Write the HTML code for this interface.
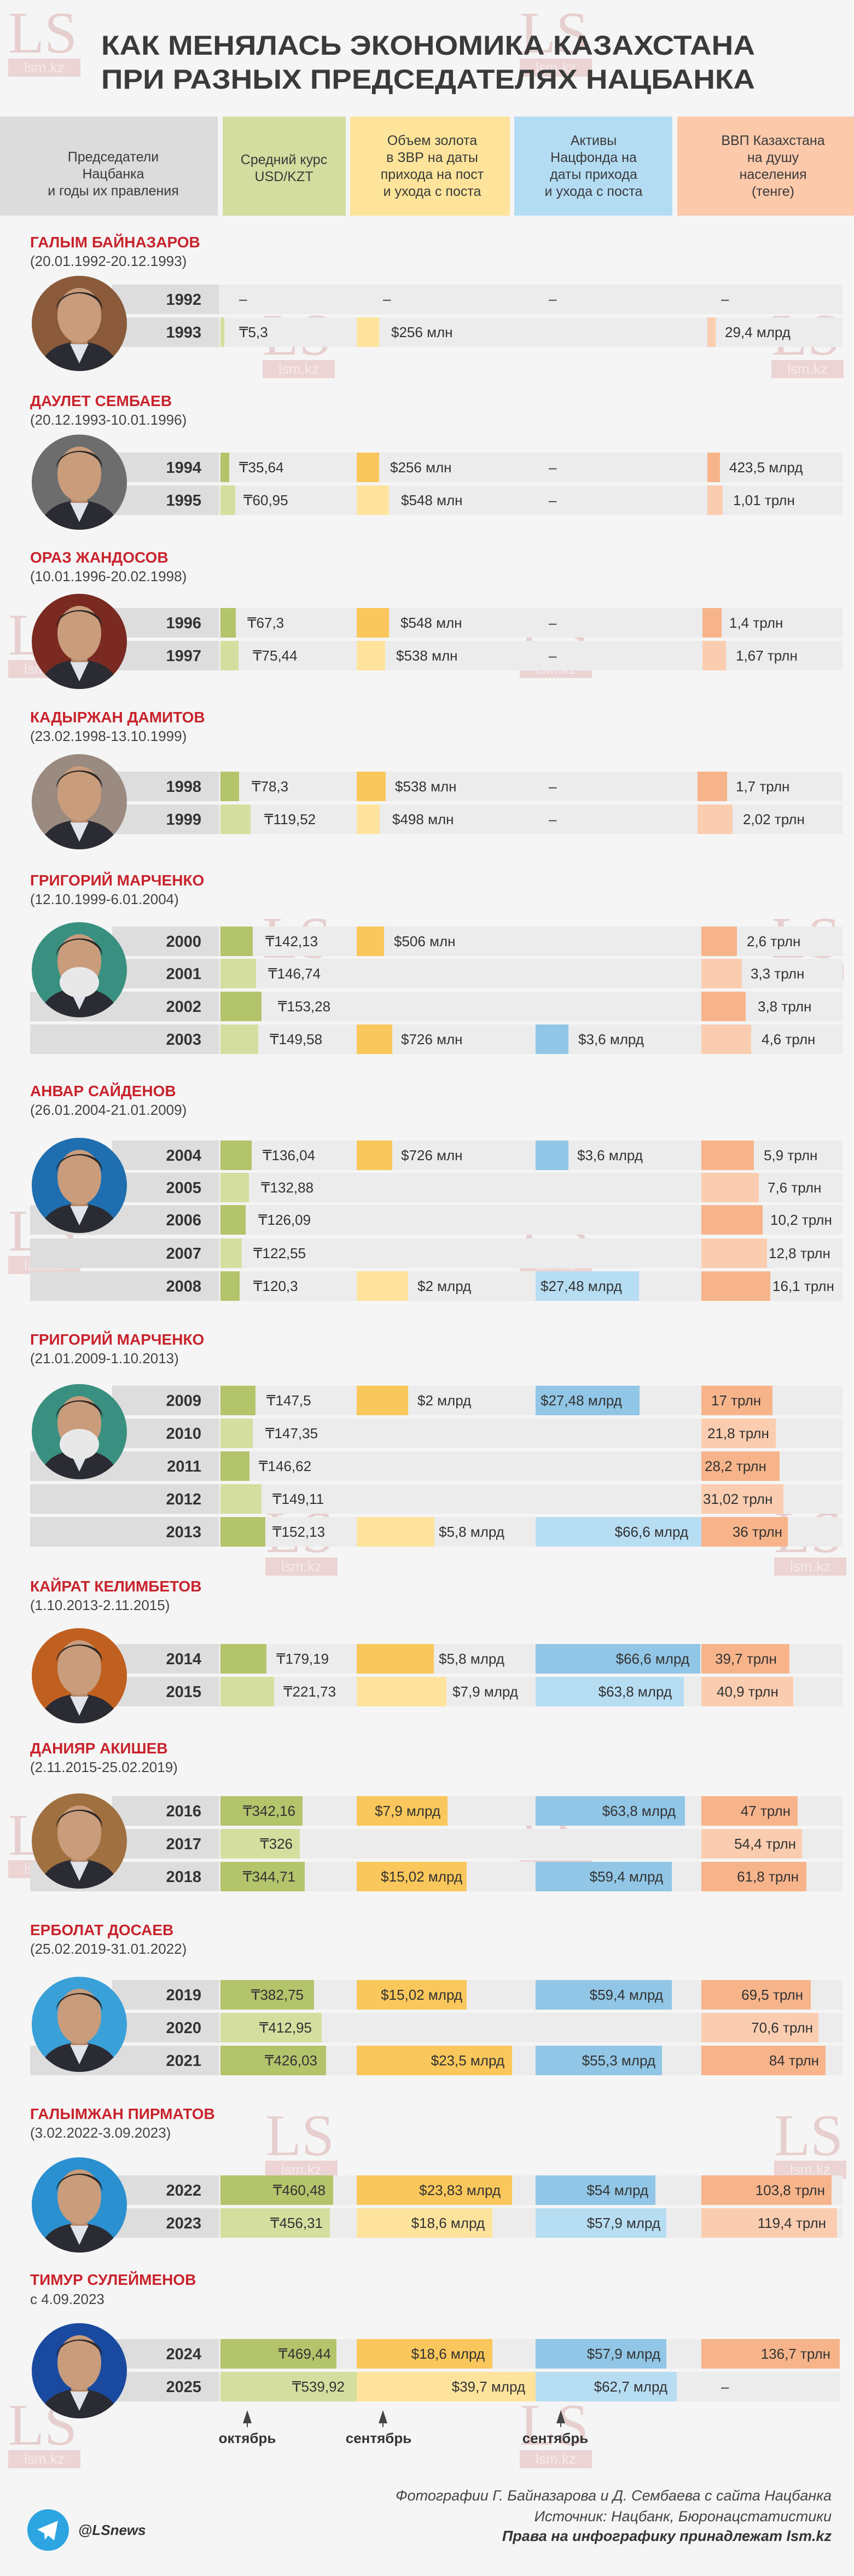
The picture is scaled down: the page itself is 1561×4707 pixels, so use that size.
<!DOCTYPE html>
<html><head><meta charset="utf-8">
<style>
html,body{margin:0;padding:0;background:#f5f5f5;}
svg{display:block;}
text{font-family:"Liberation Sans","DejaVu Sans",sans-serif;}
.yr{font-size:29px;font-weight:bold;fill:#333;text-anchor:end;}
.v{font-size:26px;fill:#333;}
.ve{font-size:26px;fill:#333;text-anchor:end;}
.nm{font-size:28px;font-weight:bold;fill:#c8232c;}
.dt{font-size:26px;fill:#444;}
.hd{font-size:25px;fill:#3a3a3a;text-anchor:middle;}
.ls{font-family:"Liberation Serif",serif;font-size:108px;fill:#e3c3c3;opacity:.75;}
.lk{font-size:26px;fill:#f6eaea;text-anchor:middle;}
</style></head>
<body>
<svg width="1561" height="4707" viewBox="0 0 1561 4707" xmlns="http://www.w3.org/2000/svg">
<defs>
<clipPath id="c"><circle cx="87" cy="87" r="87"/></clipPath>
<g id="person">
<path d="M10,180 C20,135 50,122 87,120 C124,122 154,135 164,180 Z" fill="#2b2b33"/>
<path d="M70,124 L87,160 L104,124 Z" fill="#dfe3ea"/>
<rect x="72" y="95" width="30" height="30" fill="#b88a6c"/>
<ellipse cx="87" cy="72" rx="40" ry="50" fill="#c99c7c"/>
<path d="M45,62 C45,20 130,18 129,62 C124,40 100,32 87,32 C70,32 50,40 45,62 Z" fill="#2a2624"/>
</g>
</defs>
<rect width="1561" height="4707" fill="#f5f5f5"/>

<!-- watermarks -->
<g>
<text class="ls" x="15" y="96">LS</text><rect x="15" y="107" width="132" height="33" fill="#ecd4d4"/><text class="lk" x="81" y="132">lsm.kz</text>
<text class="ls" x="950" y="96">LS</text><rect x="950" y="107" width="132" height="33" fill="#ecd4d4"/><text class="lk" x="1016" y="132">lsm.kz</text>
<text class="ls" x="480" y="648">LS</text><rect x="480" y="658" width="132" height="33" fill="#ecd4d4"/><text class="lk" x="546" y="683">lsm.kz</text>
<text class="ls" x="1410" y="648">LS</text><rect x="1410" y="658" width="132" height="33" fill="#ecd4d4"/><text class="lk" x="1476" y="683">lsm.kz</text>
<text class="ls" x="15" y="1196">LS</text><rect x="15" y="1206" width="132" height="33" fill="#ecd4d4"/><text class="lk" x="81" y="1231">lsm.kz</text>
<text class="ls" x="950" y="1196">LS</text><rect x="950" y="1206" width="132" height="33" fill="#ecd4d4"/><text class="lk" x="1016" y="1231">lsm.kz</text>
<text class="ls" x="480" y="1750">LS</text><rect x="480" y="1760" width="132" height="33" fill="#ecd4d4"/><text class="lk" x="546" y="1785">lsm.kz</text>
<text class="ls" x="1410" y="1750">LS</text><rect x="1410" y="1760" width="132" height="33" fill="#ecd4d4"/><text class="lk" x="1476" y="1785">lsm.kz</text>
<text class="ls" x="15" y="2285">LS</text><rect x="15" y="2295" width="132" height="33" fill="#ecd4d4"/><text class="lk" x="81" y="2320">lsm.kz</text>
<text class="ls" x="950" y="2285">LS</text><rect x="950" y="2295" width="132" height="33" fill="#ecd4d4"/><text class="lk" x="1016" y="2320">lsm.kz</text>
<text class="ls" x="485" y="2836">LS</text><rect x="485" y="2846" width="132" height="33" fill="#ecd4d4"/><text class="lk" x="551" y="2871">lsm.kz</text>
<text class="ls" x="1415" y="2836">LS</text><rect x="1415" y="2846" width="132" height="33" fill="#ecd4d4"/><text class="lk" x="1481" y="2871">lsm.kz</text>
<text class="ls" x="15" y="3389">LS</text><rect x="15" y="3399" width="132" height="33" fill="#ecd4d4"/><text class="lk" x="81" y="3424">lsm.kz</text>
<text class="ls" x="950" y="3389">LS</text><rect x="950" y="3399" width="132" height="33" fill="#ecd4d4"/><text class="lk" x="1016" y="3424">lsm.kz</text>
<text class="ls" x="485" y="3938">LS</text><rect x="485" y="3948" width="132" height="33" fill="#ecd4d4"/><text class="lk" x="551" y="3973">lsm.kz</text>
<text class="ls" x="1415" y="3938">LS</text><rect x="1415" y="3948" width="132" height="33" fill="#ecd4d4"/><text class="lk" x="1481" y="3973">lsm.kz</text>
<text class="ls" x="15" y="4467">LS</text><rect x="15" y="4477" width="132" height="33" fill="#ecd4d4"/><text class="lk" x="81" y="4502">lsm.kz</text>
<text class="ls" x="950" y="4467">LS</text><rect x="950" y="4477" width="132" height="33" fill="#ecd4d4"/><text class="lk" x="1016" y="4502">lsm.kz</text>
</g>

<!-- title -->
<text x="185" y="100" font-size="50" font-weight="bold" fill="#3a3a3a" textLength="1195" lengthAdjust="spacingAndGlyphs">КАК МЕНЯЛАСЬ ЭКОНОМИКА КАЗАХСТАНА</text>
<text x="185" y="162" font-size="50" font-weight="bold" fill="#3a3a3a" textLength="1195" lengthAdjust="spacingAndGlyphs">ПРИ РАЗНЫХ ПРЕДСЕДАТЕЛЯХ НАЦБАНКА</text>

<!-- header -->
<rect x="0" y="213" width="398" height="181" fill="#dcdcdc"/>
<rect x="407" y="213" width="225" height="181" fill="#d3dd9f"/>
<rect x="640" y="213" width="292" height="181" fill="#fde49a"/>
<rect x="940" y="213" width="289" height="181" fill="#b3dcf3"/>
<rect x="1238" y="213" width="323" height="181" fill="#fcc9ab"/>
<text class="hd" x="207" y="295">Председатели</text><text class="hd" x="207" y="326">Нацбанка</text><text class="hd" x="207" y="357">и годы их правления</text>
<text class="hd" x="519" y="300">Средний курс</text><text class="hd" x="519" y="331">USD/KZT</text>
<text class="hd" x="790" y="265">Объем золота</text><text class="hd" x="790" y="296">в ЗВР на даты</text><text class="hd" x="790" y="327">прихода на пост</text><text class="hd" x="790" y="358">и ухода с поста</text>
<text class="hd" x="1085" y="265">Активы</text><text class="hd" x="1085" y="296">Нацфонда на</text><text class="hd" x="1085" y="327">даты прихода</text><text class="hd" x="1085" y="358">и ухода с поста</text>
<text class="hd" x="1413" y="265">ВВП Казахстана</text><text class="hd" x="1413" y="296">на душу</text><text class="hd" x="1413" y="327">населения</text><text class="hd" x="1413" y="358">(тенге)</text>

<!-- names -->
<text class="nm" x="55" y="452">ГАЛЫМ БАЙНАЗАРОВ</text><text class="dt" x="55" y="486">(20.01.1992-20.12.1993)</text>
<text class="nm" x="55" y="742">ДАУЛЕТ СЕМБАЕВ</text><text class="dt" x="55" y="776">(20.12.1993-10.01.1996)</text>
<text class="nm" x="55" y="1028">ОРАЗ ЖАНДОСОВ</text><text class="dt" x="55" y="1062">(10.01.1996-20.02.1998)</text>
<text class="nm" x="55" y="1320">КАДЫРЖАН ДАМИТОВ</text><text class="dt" x="55" y="1354">(23.02.1998-13.10.1999)</text>
<text class="nm" x="55" y="1618">ГРИГОРИЙ МАРЧЕНКО</text><text class="dt" x="55" y="1652">(12.10.1999-6.01.2004)</text>
<text class="nm" x="55" y="2003">АНВАР САЙДЕНОВ</text><text class="dt" x="55" y="2037">(26.01.2004-21.01.2009)</text>
<text class="nm" x="55" y="2457">ГРИГОРИЙ МАРЧЕНКО</text><text class="dt" x="55" y="2491">(21.01.2009-1.10.2013)</text>
<text class="nm" x="55" y="2908">КАЙРАТ КЕЛИМБЕТОВ</text><text class="dt" x="55" y="2942">(1.10.2013-2.11.2015)</text>
<text class="nm" x="55" y="3204">ДАНИЯР АКИШЕВ</text><text class="dt" x="55" y="3238">(2.11.2015-25.02.2019)</text>
<text class="nm" x="55" y="3536">ЕРБОЛАТ ДОСАЕВ</text><text class="dt" x="55" y="3570">(25.02.2019-31.01.2022)</text>
<text class="nm" x="55" y="3872">ГАЛЫМЖАН ПИРМАТОВ</text><text class="dt" x="55" y="3906">(3.02.2022-3.09.2023)</text>
<text class="nm" x="55" y="4175">ТИМУР СУЛЕЙМЕНОВ</text><text class="dt" x="55" y="4210">с 4.09.2023</text>

<!-- ROWS -->
<g>
<!-- sec1 -->
<rect x="205" y="520" width="1335" height="54" fill="#ececec"/><rect x="205" y="520" width="195" height="54" fill="#dddddd"/><text class="yr" x="368" y="557">1992</text>
<text class="v" x="437" y="555">–</text><text class="v" x="700" y="555">–</text><text class="v" x="1003" y="555">–</text><text class="v" x="1318" y="555">–</text>
<rect x="205" y="580" width="1335" height="54" fill="#ececec"/><rect x="205" y="580" width="195" height="54" fill="#dddddd"/><text class="yr" x="368" y="617">1993</text>
<rect x="403" y="580" width="7" height="54" fill="#d4df9f"/><text class="v" x="437" y="616">₸5,3</text>
<rect x="652" y="580" width="41" height="54" fill="#fde39c"/><text class="v" x="715" y="616">$256 млн</text>
<rect x="1293" y="580" width="15" height="54" fill="#fbcdb0"/><text class="v" x="1325" y="616">29,4 млрд</text>

<!-- sec2 -->
<rect x="205" y="827" width="1335" height="54" fill="#ececec"/><rect x="205" y="827" width="195" height="54" fill="#dddddd"/><text class="yr" x="368" y="864">1994</text>
<rect x="403" y="827" width="16" height="54" fill="#b3c46b"/><text class="v" x="437" y="863">₸35,64</text>
<rect x="652" y="827" width="41" height="54" fill="#f9c75b"/><text class="v" x="713" y="863">$256 млн</text>
<text class="v" x="1003" y="863">–</text>
<rect x="1293" y="827" width="23" height="54" fill="#f7b48b"/><text class="v" x="1333" y="863">423,5 млрд</text>
<rect x="205" y="887" width="1335" height="54" fill="#ececec"/><rect x="205" y="887" width="195" height="54" fill="#dddddd"/><text class="yr" x="368" y="924">1995</text>
<rect x="403" y="887" width="27" height="54" fill="#d4df9f"/><text class="v" x="445" y="923">₸60,95</text>
<rect x="652" y="887" width="59" height="54" fill="#fde39c"/><text class="v" x="733" y="923">$548 млн</text>
<text class="v" x="1003" y="923">–</text>
<rect x="1293" y="887" width="28" height="54" fill="#fbcdb0"/><text class="v" x="1340" y="923">1,01 трлн</text>

<!-- sec3 -->
<rect x="205" y="1111" width="1335" height="54" fill="#ececec"/><rect x="205" y="1111" width="195" height="54" fill="#dddddd"/><text class="yr" x="368" y="1148">1996</text>
<rect x="403" y="1111" width="28" height="54" fill="#b3c46b"/><text class="v" x="452" y="1147">₸67,3</text>
<rect x="652" y="1111" width="59" height="54" fill="#f9c75b"/><text class="v" x="732" y="1147">$548 млн</text>
<text class="v" x="1003" y="1147">–</text>
<rect x="1284" y="1111" width="35" height="54" fill="#f7b48b"/><text class="v" x="1333" y="1147">1,4 трлн</text>
<rect x="205" y="1171" width="1335" height="54" fill="#ececec"/><rect x="205" y="1171" width="195" height="54" fill="#dddddd"/><text class="yr" x="368" y="1208">1997</text>
<rect x="403" y="1171" width="33" height="54" fill="#d4df9f"/><text class="v" x="462" y="1207">₸75,44</text>
<rect x="652" y="1171" width="52" height="54" fill="#fde39c"/><text class="v" x="724" y="1207">$538 млн</text>
<text class="v" x="1003" y="1207">–</text>
<rect x="1284" y="1171" width="43" height="54" fill="#fbcdb0"/><text class="v" x="1345" y="1207">1,67 трлн</text>

<!-- sec4 -->
<rect x="205" y="1410" width="1335" height="54" fill="#ececec"/><rect x="205" y="1410" width="195" height="54" fill="#dddddd"/><text class="yr" x="368" y="1447">1998</text>
<rect x="403" y="1410" width="34" height="54" fill="#b3c46b"/><text class="v" x="460" y="1446">₸78,3</text>
<rect x="652" y="1410" width="53" height="54" fill="#f9c75b"/><text class="v" x="722" y="1446">$538 млн</text>
<text class="v" x="1003" y="1446">–</text>
<rect x="1275" y="1410" width="54" height="54" fill="#f7b48b"/><text class="v" x="1345" y="1446">1,7 трлн</text>
<rect x="205" y="1470" width="1335" height="54" fill="#ececec"/><rect x="205" y="1470" width="195" height="54" fill="#dddddd"/><text class="yr" x="368" y="1507">1999</text>
<rect x="403" y="1470" width="55" height="54" fill="#d4df9f"/><text class="v" x="483" y="1506">₸119,52</text>
<rect x="652" y="1470" width="42" height="54" fill="#fde39c"/><text class="v" x="717" y="1506">$498 млн</text>
<text class="v" x="1003" y="1506">–</text>
<rect x="1275" y="1470" width="64" height="54" fill="#fbcdb0"/><text class="v" x="1358" y="1506">2,02 трлн</text>

<!-- sec5 -->
<rect x="205" y="1693" width="1335" height="54" fill="#ececec"/><rect x="205" y="1693" width="195" height="54" fill="#dddddd"/><text class="yr" x="368" y="1730">2000</text>
<rect x="403" y="1693" width="59" height="54" fill="#b3c46b"/><text class="v" x="485" y="1729">₸142,13</text>
<rect x="652" y="1693" width="50" height="54" fill="#f9c75b"/><text class="v" x="720" y="1729">$506 млн</text>
<rect x="1282" y="1693" width="65" height="54" fill="#f7b48b"/><text class="v" x="1365" y="1729">2,6 трлн</text>
<rect x="205" y="1752" width="1335" height="54" fill="#ececec"/><rect x="205" y="1752" width="195" height="54" fill="#dddddd"/><text class="yr" x="368" y="1789">2001</text>
<rect x="403" y="1752" width="65" height="54" fill="#d4df9f"/><text class="v" x="490" y="1788">₸146,74</text>
<rect x="1282" y="1752" width="74" height="54" fill="#fbcdb0"/><text class="v" x="1372" y="1788">3,3 трлн</text>
<rect x="55" y="1812" width="1485" height="54" fill="#ececec"/><rect x="55" y="1812" width="345" height="54" fill="#dddddd"/><text class="yr" x="368" y="1849">2002</text>
<rect x="403" y="1812" width="75" height="54" fill="#b3c46b"/><text class="v" x="508" y="1848">₸153,28</text>
<rect x="1282" y="1812" width="81" height="54" fill="#f7b48b"/><text class="v" x="1385" y="1848">3,8 трлн</text>
<rect x="55" y="1872" width="1485" height="54" fill="#ececec"/><rect x="55" y="1872" width="345" height="54" fill="#dddddd"/><text class="yr" x="368" y="1909">2003</text>
<rect x="403" y="1872" width="69" height="54" fill="#d4df9f"/><text class="v" x="493" y="1908">₸149,58</text>
<rect x="652" y="1872" width="65" height="54" fill="#f9c75b"/><text class="v" x="733" y="1908">$726 млн</text>
<rect x="979" y="1872" width="60" height="54" fill="#91c6e6"/><text class="v" x="1057" y="1908">$3,6 млрд</text>
<rect x="1282" y="1872" width="91" height="54" fill="#fbcdb0"/><text class="v" x="1392" y="1908">4,6 трлн</text>

<!-- sec6 -->
<rect x="205" y="2084" width="1335" height="54" fill="#ececec"/><rect x="205" y="2084" width="195" height="54" fill="#dddddd"/><text class="yr" x="368" y="2121">2004</text>
<rect x="403" y="2084" width="57" height="54" fill="#b3c46b"/><text class="v" x="480" y="2120">₸136,04</text>
<rect x="652" y="2084" width="65" height="54" fill="#f9c75b"/><text class="v" x="733" y="2120">$726 млн</text>
<rect x="979" y="2084" width="60" height="54" fill="#91c6e6"/><text class="v" x="1055" y="2120">$3,6 млрд</text>
<rect x="1282" y="2084" width="96" height="54" fill="#f7b48b"/><text class="v" x="1396" y="2120">5,9 трлн</text>
<rect x="205" y="2143" width="1335" height="54" fill="#ececec"/><rect x="205" y="2143" width="195" height="54" fill="#dddddd"/><text class="yr" x="368" y="2180">2005</text>
<rect x="403" y="2143" width="52" height="54" fill="#d4df9f"/><text class="v" x="477" y="2179">₸132,88</text>
<rect x="1282" y="2143" width="105" height="54" fill="#fbcdb0"/><text class="v" x="1403" y="2179">7,6 трлн</text>
<rect x="55" y="2202" width="1485" height="54" fill="#ececec"/><rect x="55" y="2202" width="345" height="54" fill="#dddddd"/><text class="yr" x="368" y="2239">2006</text>
<rect x="403" y="2202" width="46" height="54" fill="#b3c46b"/><text class="v" x="472" y="2238">₸126,09</text>
<rect x="1282" y="2202" width="112" height="54" fill="#f7b48b"/><text class="v" x="1408" y="2238">10,2 трлн</text>
<rect x="55" y="2263" width="1485" height="54" fill="#ececec"/><rect x="55" y="2263" width="345" height="54" fill="#dddddd"/><text class="yr" x="368" y="2300">2007</text>
<rect x="403" y="2263" width="39" height="54" fill="#d4df9f"/><text class="v" x="463" y="2299">₸122,55</text>
<rect x="1282" y="2263" width="120" height="54" fill="#fbcdb0"/><text class="v" x="1405" y="2299">12,8 трлн</text>
<rect x="55" y="2323" width="1485" height="54" fill="#ececec"/><rect x="55" y="2323" width="345" height="54" fill="#dddddd"/><text class="yr" x="368" y="2360">2008</text>
<rect x="403" y="2323" width="35" height="54" fill="#b3c46b"/><text class="v" x="463" y="2359">₸120,3</text>
<rect x="652" y="2323" width="94" height="54" fill="#fde39c"/><text class="v" x="763" y="2359">$2 млрд</text>
<rect x="979" y="2323" width="189" height="54" fill="#b7ddf3"/><text class="v" x="988" y="2359">$27,48 млрд</text>
<rect x="1282" y="2323" width="126" height="54" fill="#f7b48b"/><text class="v" x="1412" y="2359">16,1 трлн</text>

<!-- sec7 -->
<rect x="205" y="2532" width="1335" height="54" fill="#ececec"/><rect x="205" y="2532" width="195" height="54" fill="#dddddd"/><text class="yr" x="368" y="2569">2009</text>
<rect x="403" y="2532" width="64" height="54" fill="#b3c46b"/><text class="v" x="487" y="2568">₸147,5</text>
<rect x="652" y="2532" width="94" height="54" fill="#f9c75b"/><text class="v" x="763" y="2568">$2 млрд</text>
<rect x="979" y="2532" width="190" height="54" fill="#91c6e6"/><text class="v" x="988" y="2568">$27,48 млрд</text>
<rect x="1282" y="2532" width="130" height="54" fill="#f7b48b"/><text class="v" x="1300" y="2568">17 трлн</text>
<rect x="205" y="2592" width="1335" height="54" fill="#ececec"/><rect x="205" y="2592" width="195" height="54" fill="#dddddd"/><text class="yr" x="368" y="2629">2010</text>
<rect x="403" y="2592" width="59" height="54" fill="#d4df9f"/><text class="v" x="485" y="2628">₸147,35</text>
<rect x="1282" y="2592" width="136" height="54" fill="#fbcdb0"/><text class="v" x="1293" y="2628">21,8 трлн</text>
<rect x="55" y="2652" width="1485" height="54" fill="#ececec"/><rect x="55" y="2652" width="345" height="54" fill="#dddddd"/><text class="yr" x="368" y="2689">2011</text>
<rect x="403" y="2652" width="53" height="54" fill="#b3c46b"/><text class="v" x="473" y="2688">₸146,62</text>
<rect x="1282" y="2652" width="143" height="54" fill="#f7b48b"/><text class="v" x="1288" y="2688">28,2 трлн</text>
<rect x="55" y="2712" width="1485" height="54" fill="#ececec"/><rect x="55" y="2712" width="345" height="54" fill="#dddddd"/><text class="yr" x="368" y="2749">2012</text>
<rect x="403" y="2712" width="75" height="54" fill="#d4df9f"/><text class="v" x="498" y="2748">₸149,11</text>
<rect x="1282" y="2712" width="150" height="54" fill="#fbcdb0"/><text class="v" x="1285" y="2748">31,02 трлн</text>
<rect x="55" y="2772" width="1485" height="54" fill="#ececec"/><rect x="55" y="2772" width="345" height="54" fill="#dddddd"/><text class="yr" x="368" y="2809">2013</text>
<rect x="403" y="2772" width="82" height="54" fill="#b3c46b"/><text class="v" x="498" y="2808">₸152,13</text>
<rect x="652" y="2772" width="142" height="54" fill="#fde39c"/><text class="v" x="802" y="2808">$5,8 млрд</text>
<rect x="979" y="2772" width="303" height="54" fill="#b7ddf3"/><text class="ve" x="1258" y="2808">$66,6 млрд</text>
<rect x="1282" y="2772" width="158" height="54" fill="#f7b48b"/><text class="ve" x="1430" y="2808">36 трлн</text>

<!-- sec8 -->
<rect x="205" y="3004" width="1335" height="54" fill="#ececec"/><rect x="205" y="3004" width="195" height="54" fill="#dddddd"/><text class="yr" x="368" y="3041">2014</text>
<rect x="403" y="3004" width="84" height="54" fill="#b3c46b"/><text class="v" x="505" y="3040">₸179,19</text>
<rect x="652" y="3004" width="141" height="54" fill="#f9c75b"/><text class="v" x="802" y="3040">$5,8 млрд</text>
<rect x="979" y="3004" width="301" height="54" fill="#91c6e6"/><text class="ve" x="1260" y="3040">$66,6 млрд</text>
<rect x="1282" y="3004" width="161" height="54" fill="#f7b48b"/><text class="v" x="1307" y="3040">39,7 трлн</text>
<rect x="205" y="3064" width="1335" height="54" fill="#ececec"/><rect x="205" y="3064" width="195" height="54" fill="#dddddd"/><text class="yr" x="368" y="3101">2015</text>
<rect x="403" y="3064" width="98" height="54" fill="#d4df9f"/><text class="v" x="518" y="3100">₸221,73</text>
<rect x="652" y="3064" width="164" height="54" fill="#fde39c"/><text class="v" x="827" y="3100">$7,9 млрд</text>
<rect x="979" y="3064" width="271" height="54" fill="#b7ddf3"/><text class="ve" x="1228" y="3100">$63,8 млрд</text>
<rect x="1282" y="3064" width="168" height="54" fill="#fbcdb0"/><text class="v" x="1310" y="3100">40,9 трлн</text>

<!-- sec9 -->
<rect x="205" y="3282" width="1335" height="54" fill="#ececec"/><rect x="205" y="3282" width="195" height="54" fill="#dddddd"/><text class="yr" x="368" y="3319">2016</text>
<rect x="403" y="3282" width="150" height="54" fill="#b3c46b"/><text class="ve" x="540" y="3318">₸342,16</text>
<rect x="652" y="3282" width="166" height="54" fill="#f9c75b"/><text class="ve" x="805" y="3318">$7,9 млрд</text>
<rect x="979" y="3282" width="273" height="54" fill="#91c6e6"/><text class="ve" x="1235" y="3318">$63,8 млрд</text>
<rect x="1282" y="3282" width="176" height="54" fill="#f7b48b"/><text class="ve" x="1445" y="3318">47 трлн</text>
<rect x="205" y="3342" width="1335" height="54" fill="#ececec"/><rect x="205" y="3342" width="195" height="54" fill="#dddddd"/><text class="yr" x="368" y="3379">2017</text>
<rect x="403" y="3342" width="145" height="54" fill="#d4df9f"/><text class="ve" x="535" y="3378">₸326</text>
<rect x="1282" y="3342" width="184" height="54" fill="#fbcdb0"/><text class="ve" x="1455" y="3378">54,4 трлн</text>
<rect x="55" y="3402" width="1485" height="54" fill="#ececec"/><rect x="55" y="3402" width="345" height="54" fill="#dddddd"/><text class="yr" x="368" y="3439">2018</text>
<rect x="403" y="3402" width="154" height="54" fill="#b3c46b"/><text class="ve" x="540" y="3438">₸344,71</text>
<rect x="652" y="3402" width="201" height="54" fill="#f9c75b"/><text class="ve" x="845" y="3438">$15,02 млрд</text>
<rect x="979" y="3402" width="249" height="54" fill="#91c6e6"/><text class="ve" x="1212" y="3438">$59,4 млрд</text>
<rect x="1282" y="3402" width="192" height="54" fill="#f7b48b"/><text class="ve" x="1460" y="3438">61,8 трлн</text>

<!-- sec10 -->
<rect x="205" y="3618" width="1335" height="54" fill="#ececec"/><rect x="205" y="3618" width="195" height="54" fill="#dddddd"/><text class="yr" x="368" y="3655">2019</text>
<rect x="403" y="3618" width="171" height="54" fill="#b3c46b"/><text class="ve" x="555" y="3654">₸382,75</text>
<rect x="652" y="3618" width="201" height="54" fill="#f9c75b"/><text class="ve" x="845" y="3654">$15,02 млрд</text>
<rect x="979" y="3618" width="249" height="54" fill="#91c6e6"/><text class="ve" x="1212" y="3654">$59,4 млрд</text>
<rect x="1282" y="3618" width="200" height="54" fill="#f7b48b"/><text class="ve" x="1468" y="3654">69,5 трлн</text>
<rect x="205" y="3678" width="1335" height="54" fill="#ececec"/><rect x="205" y="3678" width="195" height="54" fill="#dddddd"/><text class="yr" x="368" y="3715">2020</text>
<rect x="403" y="3678" width="185" height="54" fill="#d4df9f"/><text class="ve" x="570" y="3714">₸412,95</text>
<rect x="1282" y="3678" width="214" height="54" fill="#fbcdb0"/><text class="ve" x="1486" y="3714">70,6 трлн</text>
<rect x="55" y="3738" width="1485" height="54" fill="#ececec"/><rect x="55" y="3738" width="345" height="54" fill="#dddddd"/><text class="yr" x="368" y="3775">2021</text>
<rect x="403" y="3738" width="193" height="54" fill="#b3c46b"/><text class="ve" x="580" y="3774">₸426,03</text>
<rect x="652" y="3738" width="284" height="54" fill="#f9c75b"/><text class="ve" x="922" y="3774">$23,5 млрд</text>
<rect x="979" y="3738" width="231" height="54" fill="#91c6e6"/><text class="ve" x="1198" y="3774">$55,3 млрд</text>
<rect x="1282" y="3738" width="227" height="54" fill="#f7b48b"/><text class="ve" x="1497" y="3774">84 трлн</text>

<!-- sec11 -->
<rect x="205" y="3975" width="1335" height="54" fill="#ececec"/><rect x="205" y="3975" width="195" height="54" fill="#dddddd"/><text class="yr" x="368" y="4012">2022</text>
<rect x="403" y="3975" width="206" height="54" fill="#b3c46b"/><text class="ve" x="595" y="4011">₸460,48</text>
<rect x="652" y="3975" width="284" height="54" fill="#f9c75b"/><text class="ve" x="915" y="4011">$23,83 млрд</text>
<rect x="979" y="3975" width="219" height="54" fill="#91c6e6"/><text class="ve" x="1185" y="4011">$54 млрд</text>
<rect x="1282" y="3975" width="238" height="54" fill="#f7b48b"/><text class="ve" x="1508" y="4011">103,8 трлн</text>
<rect x="205" y="4035" width="1335" height="54" fill="#ececec"/><rect x="205" y="4035" width="195" height="54" fill="#dddddd"/><text class="yr" x="368" y="4072">2023</text>
<rect x="403" y="4035" width="200" height="54" fill="#d4df9f"/><text class="ve" x="590" y="4071">₸456,31</text>
<rect x="652" y="4035" width="248" height="54" fill="#fde39c"/><text class="ve" x="886" y="4071">$18,6 млрд</text>
<rect x="979" y="4035" width="239" height="54" fill="#b7ddf3"/><text class="ve" x="1207" y="4071">$57,9 млрд</text>
<rect x="1282" y="4035" width="248" height="54" fill="#fbcdb0"/><text class="ve" x="1510" y="4071">119,4 трлн</text>

<!-- sec12 -->
<rect x="205" y="4274" width="1330" height="54" fill="#ececec"/><rect x="205" y="4274" width="195" height="54" fill="#dddddd"/><text class="yr" x="368" y="4311">2024</text>
<rect x="403" y="4274" width="212" height="54" fill="#b3c46b"/><text class="ve" x="605" y="4310">₸469,44</text>
<rect x="652" y="4274" width="248" height="54" fill="#f9c75b"/><text class="ve" x="886" y="4310">$18,6 млрд</text>
<rect x="979" y="4274" width="239" height="54" fill="#91c6e6"/><text class="ve" x="1207" y="4310">$57,9 млрд</text>
<rect x="1282" y="4274" width="253" height="54" fill="#f7b48b"/><text class="ve" x="1518" y="4310">136,7 трлн</text>
<rect x="205" y="4334" width="1330" height="54" fill="#ececec"/><rect x="205" y="4334" width="195" height="54" fill="#dddddd"/><text class="yr" x="368" y="4371">2025</text>
<rect x="403" y="4334" width="249" height="54" fill="#d4df9f"/><text class="ve" x="630" y="4370">₸539,92</text>
<rect x="652" y="4334" width="327" height="54" fill="#fde39c"/><text class="ve" x="960" y="4370">$39,7 млрд</text>
<rect x="979" y="4334" width="258" height="54" fill="#b7ddf3"/><text class="ve" x="1220" y="4370">$62,7 млрд</text>
<text class="v" x="1318" y="4370">–</text>
</g>

<!-- photos -->
<g transform="translate(58,504)" clip-path="url(#c)"><rect width="174" height="174" fill="#8a5a3a"/><use href="#person"/></g>
<g transform="translate(58,794)" clip-path="url(#c)"><rect width="174" height="174" fill="#6d6d6d"/><use href="#person"/></g>
<g transform="translate(58,1085)" clip-path="url(#c)"><rect width="174" height="174" fill="#7a2a20"/><use href="#person"/></g>
<g transform="translate(58,1378)" clip-path="url(#c)"><rect width="174" height="174" fill="#9a8a80"/><use href="#person"/></g>
<g transform="translate(58,1685)" clip-path="url(#c)"><rect width="174" height="174" fill="#3a9080"/><use href="#person"/><ellipse cx="87" cy="110" rx="36" ry="28" fill="#e8e8e8"/></g>
<g transform="translate(58,2079)" clip-path="url(#c)"><rect width="174" height="174" fill="#1f6fb0"/><use href="#person"/></g>
<g transform="translate(58,2529)" clip-path="url(#c)"><rect width="174" height="174" fill="#3a9080"/><use href="#person"/><ellipse cx="87" cy="110" rx="36" ry="28" fill="#e8e8e8"/></g>
<g transform="translate(58,2975)" clip-path="url(#c)"><rect width="174" height="174" fill="#c06020"/><use href="#person"/></g>
<g transform="translate(58,3277)" clip-path="url(#c)"><rect width="174" height="174" fill="#a07040"/><use href="#person"/></g>
<g transform="translate(58,3612)" clip-path="url(#c)"><rect width="174" height="174" fill="#3aa0d8"/><use href="#person"/></g>
<g transform="translate(58,3942)" clip-path="url(#c)"><rect width="174" height="174" fill="#2a90d0"/><use href="#person"/></g>
<g transform="translate(58,4245)" clip-path="url(#c)"><rect width="174" height="174" fill="#1a4aa0"/><use href="#person"/></g>

<!-- arrows -->
<g fill="#444">
<path d="M452,4404 L444,4428 L460,4428 Z"/><rect x="451" y="4425" width="2" height="10"/>
<path d="M700,4404 L692,4428 L708,4428 Z"/><rect x="699" y="4425" width="2" height="10"/>
<path d="M1025,4404 L1017,4428 L1033,4428 Z"/><rect x="1024" y="4425" width="2" height="10"/>
</g>
<text x="452" y="4464" font-size="26" font-weight="bold" fill="#333" text-anchor="middle">октябрь</text>
<text x="692" y="4464" font-size="26" font-weight="bold" fill="#333" text-anchor="middle">сентябрь</text>
<text x="1015" y="4464" font-size="26" font-weight="bold" fill="#333" text-anchor="middle">сентябрь</text>

<!-- footer -->
<text x="1520" y="4569" font-size="27" font-style="italic" fill="#444" text-anchor="end">Фотографии Г. Байназарова и Д. Сембаева с сайта Нацбанка</text>
<text x="1520" y="4607" font-size="27" font-style="italic" fill="#444" text-anchor="end">Источник: Нацбанк, Бюронацстатистики</text>
<text x="1520" y="4643" font-size="27" font-style="italic" font-weight="bold" fill="#333" text-anchor="end">Права на инфографику принадлежат lsm.kz</text>
<circle cx="88" cy="4623" r="38" fill="#2ca5e0"/>
<path d="M68,4622 L106,4606 L99,4642 L88,4633 L82,4641 L81,4629 Z" fill="#fff"/>
<text x="143" y="4632" font-size="26" font-style="italic" font-weight="bold" fill="#333">@LSnews</text>
</svg>
</body></html>
